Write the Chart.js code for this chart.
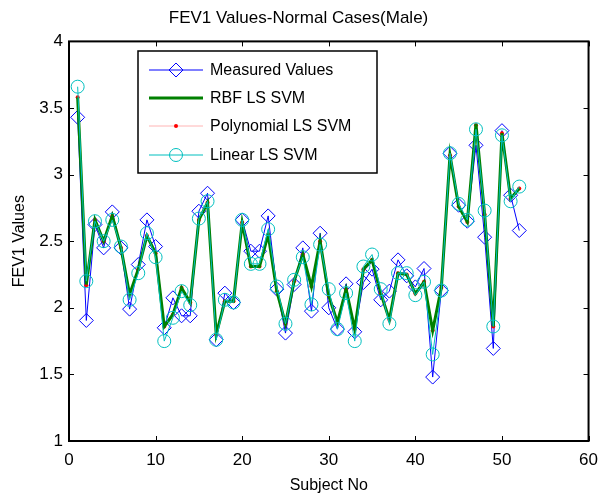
<!DOCTYPE html>
<html>
<head>
<meta charset="utf-8">
<script src="https://cdn.jsdelivr.net/npm/chart.js@4.4.0/dist/chart.umd.min.js"></script>
<style>
  html, body { margin: 0; padding: 0; background: #fff; }
</style>
</head>
<body>
<canvas id="fevChart" width="607" height="495"></canvas>
<script>
const subjects = [1, 2, 3, 4, 5, 6, 7, 8, 9, 10, 11, 12, 13, 14, 15, 16, 17, 18, 19, 20,
  21, 22, 23, 24, 25, 26, 27, 28, 29, 30, 31, 32, 33, 34, 35, 36, 37, 38, 39, 40,
  41, 42, 43, 44, 45, 46, 47, 48, 49, 50, 51, 52];

const measured = [3.43, 1.905, 2.625, 2.45, 2.72, 2.45, 1.99, 2.325, 2.66, 2.46,
  1.85, 2.075, 1.94, 1.94, 2.725, 2.86, 1.76, 2.11, 2.04, 2.66,
  2.425, 2.425, 2.69, 2.14, 1.81, 2.175, 2.45, 1.975, 2.56, 2.0,
  1.84, 2.18, 1.82, 2.19, 2.29, 2.06, 2.125, 2.36, 2.24, 2.157,
  2.295, 1.48, 2.13, 3.16, 2.77, 2.65, 3.22, 2.53, 1.695, 3.33,
  2.845, 2.58];

const rbf = [3.58, 2.175, 2.66, 2.5, 2.69, 2.45, 2.1, 2.29, 2.54, 2.41,
  1.86, 1.95, 2.15, 2.04, 2.66, 2.79, 1.8, 2.05, 2.05, 2.64,
  2.31, 2.31, 2.55, 2.125, 1.88, 2.2, 2.4, 2.16, 2.5, 2.09,
  1.89, 2.14, 1.84, 2.29, 2.36, 2.11, 1.91, 2.26, 2.25, 2.107,
  2.195, 1.83, 2.15, 3.145, 2.76, 2.645, 3.38, 2.7, 1.86, 3.31,
  2.82, 2.895];

const poly = [3.58, 2.17, 2.66, 2.5, 2.69, 2.45, 2.1, 2.29, 2.54, 2.41,
  1.86, 1.95, 2.15, 2.04, 2.66, 2.79, 1.8, 2.05, 2.05, 2.64,
  2.31, 2.31, 2.55, 2.125, 1.88, 2.2, 2.4, 2.16, 2.5, 2.09,
  1.89, 2.14, 1.84, 2.29, 2.36, 2.11, 1.91, 2.26, 2.25, 2.107,
  2.195, 1.83, 2.15, 3.145, 2.76, 2.645, 3.37, 2.7, 1.86, 3.31,
  2.82, 2.895];

const linear = [3.66, 2.2, 2.65, 2.5, 2.66, 2.46, 2.06, 2.26, 2.56, 2.38,
  1.75, 1.925, 2.125, 2.02, 2.67, 2.8, 1.76, 2.06, 2.04, 2.66,
  2.33, 2.33, 2.59, 2.16, 1.88, 2.21, 2.38, 2.025, 2.475, 2.14,
  1.84, 2.11, 1.75, 2.31, 2.4, 2.14, 1.88, 2.26, 2.26, 2.095,
  2.195, 1.65, 2.13, 3.16, 2.78, 2.66, 3.34, 2.73, 1.86, 3.295,
  2.8, 2.91];

const xTicks = [0, 10, 20, 30, 40, 50, 60];
const yTicks = [1, 1.5, 2, 2.5, 3, 3.5, 4];

const fontFamily = "'Liberation Sans', Arial, sans-serif";

function toPoints(values) {
  return values.map((v, i) => ({ x: subjects[i], y: v }));
}

function drawMarker(ctx, ds, x, y) {
  if (!ds.pointRadius) return;
  ctx.save();
  ctx.fillStyle = ds.pointBackgroundColor;
  ctx.strokeStyle = ds.pointBorderColor;
  ctx.lineWidth = ds.pointBorderWidth;
  Chart.helpers.drawPoint(ctx, {
    pointStyle: ds.pointStyle,
    radius: ds.pointRadius,
    rotation: 0,
    borderWidth: ds.pointBorderWidth,
  }, x, y);
  ctx.restore();
}

// MATLAB style box with inward ticks, plus the legend inside the axes
const matlabFrame = {
  id: "matlabFrame",
  afterDatasetsDraw(chart) {
    const { ctx, chartArea: a, scales } = chart;
    const len = 5;
    ctx.save();
    ctx.strokeStyle = "#000";
    ctx.lineWidth = 1;
    ctx.beginPath();
    xTicks.forEach((t) => {
      const x = Math.round(scales.x.getPixelForValue(t)) + 0.5;
      ctx.moveTo(x, a.bottom); ctx.lineTo(x, a.bottom - len);
      ctx.moveTo(x, a.top); ctx.lineTo(x, a.top + len);
    });
    yTicks.forEach((t) => {
      const y = Math.round(scales.y.getPixelForValue(t)) + 0.5;
      ctx.moveTo(a.left, y); ctx.lineTo(a.left + len, y);
      ctx.moveTo(a.right, y); ctx.lineTo(a.right - len, y);
    });
    ctx.stroke();
    ctx.lineWidth = 2;
    ctx.strokeRect(a.left, a.top, a.right - a.left, a.bottom - a.top);

    // legend
    const box = { x: 138, y: 51, w: 239, h: 122 };
    ctx.fillStyle = "#fff";
    ctx.fillRect(box.x, box.y, box.w, box.h);
    ctx.strokeStyle = "#000";
    ctx.lineWidth = 1.5;
    ctx.strokeRect(box.x, box.y, box.w, box.h);
    const rows = [70, 98, 126, 155];
    const items = chart.data.datasets.slice().sort((p, q) => p.legendIndex - q.legendIndex);
    items.forEach((ds, i) => {
      const y = rows[i];
      ctx.strokeStyle = ds.borderColor;
      ctx.lineWidth = ds.borderWidth;
      ctx.beginPath();
      ctx.moveTo(149, y);
      ctx.lineTo(203, y);
      ctx.stroke();
      drawMarker(ctx, ds, 176, y);
      ctx.fillStyle = "#000";
      ctx.font = "16px " + fontFamily;
      ctx.textBaseline = "middle";
      ctx.fillText(ds.label, 210, y + 1);
    });
    ctx.restore();
  },
};

const ctx = document.getElementById("fevChart").getContext("2d");

new Chart(ctx, {
  type: "line",
  data: {
    datasets: [
      {
        label: "Linear LS SVM",
        legendIndex: 3,
        order: 0,
        data: toPoints(linear),
        borderColor: "#00bfbf",
        borderWidth: 1,
        pointStyle: "circle",
        pointRadius: 6.5,
        pointBorderWidth: 1,
        pointBorderColor: "#00bfbf",
        pointBackgroundColor: "rgba(0,0,0,0)",
      },
      {
        label: "RBF LS SVM",
        legendIndex: 1,
        order: 1,
        data: toPoints(rbf),
        borderColor: "#008000",
        borderWidth: 3,
        pointRadius: 0,
      },
      {
        label: "Polynomial LS SVM",
        legendIndex: 2,
        order: 2,
        data: toPoints(poly),
        borderColor: "#ffb4b4",
        borderWidth: 1,
        pointStyle: "circle",
        pointRadius: 2,
        pointBorderWidth: 0,
        pointBorderColor: "#ff0000",
        pointBackgroundColor: "#ff0000",
      },
      {
        label: "Measured Values",
        legendIndex: 0,
        order: 3,
        data: toPoints(measured),
        borderColor: "#0000ff",
        borderWidth: 1,
        pointStyle: "rectRot",
        pointRadius: 7,
        pointBorderWidth: 1,
        pointBorderColor: "#0000ff",
        pointBackgroundColor: "rgba(0,0,0,0)",
      },
    ],
  },
  options: {
    responsive: false,
    animation: false,
    devicePixelRatio: 1,
    layout: { padding: { top: 0, right: 10, bottom: 0, left: 0 } },
    elements: { line: { tension: 0 } },
    plugins: {
      legend: { display: false },
      tooltip: { enabled: false },
      title: {
        display: true,
        text: "FEV1 Values-Normal Cases(Male)",
        color: "#000",
        font: { family: fontFamily, size: 17, weight: "normal" },
        padding: { top: 8, bottom: 13 },
      },
    },
    scales: {
      x: {
        type: "linear",
        min: 0,
        max: 60,
        afterFit: (scale) => { scale.height = 54; },
        afterBuildTicks: (scale) => { scale.ticks = xTicks.map((v) => ({ value: v })); },
        grid: { display: false, drawTicks: false },
        border: { display: false },
        ticks: {
          color: "#000",
          padding: 9,
          font: { family: fontFamily, size: 17 },
          callback: (v) => String(v),
        },
        title: {
          display: true,
          text: "Subject No",
          color: "#000",
          font: { family: fontFamily, size: 16 },
          padding: { top: 0, bottom: 0 },
        },
      },
      y: {
        type: "linear",
        min: 1,
        max: 4,
        afterFit: (scale) => { scale.width = 69; },
        afterBuildTicks: (scale) => { scale.ticks = yTicks.map((v) => ({ value: v })); },
        grid: { display: false, drawTicks: false },
        border: { display: false },
        ticks: {
          color: "#000",
          padding: 6,
          font: { family: fontFamily, size: 17 },
          callback: (v) => String(v),
        },
        title: {
          display: true,
          text: "FEV1 Values",
          color: "#000",
          font: { family: fontFamily, size: 16 },
          padding: { top: 10, bottom: 0 },
        },
      },
    },
  },
  plugins: [matlabFrame],
});
</script>
</body>
</html>
